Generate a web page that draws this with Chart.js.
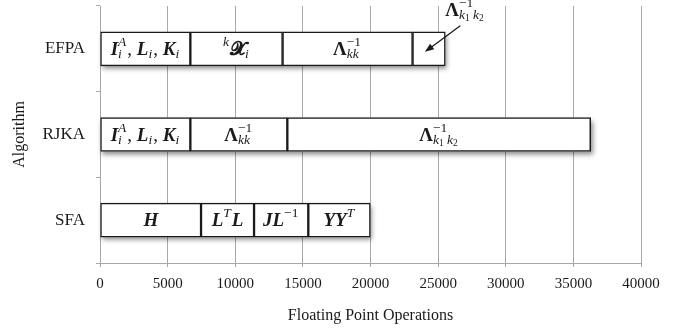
<!DOCTYPE html>
<html>
<head>
<meta charset="utf-8">
<script src="https://cdn.jsdelivr.net/npm/chart.js@4.4.1/dist/chart.umd.min.js"></script>
<style>
  html, body { margin: 0; padding: 0; background: #fff; }
  #wrap { width: 683px; height: 331px; }
</style>
</head>
<body>
<div id="wrap"><canvas id="opsChart"></canvas></div>
<script>
var algorithms = ['EFPA', 'RJKA', 'SFA'];
// flops spent in each step, left to right
var efpaOps = [6680, 6820, 9610, 2420];
var rjkaOps = [6680, 7170, 22430];
var sfaOps = [7470, 3920, 4010, 4590];
var opsMin = 0, opsMax = 40000, opsStep = 5000;

var serif = '"Liberation Serif", serif';
var baseSize = 19, scriptSize = 13.5;
var ink = '#1a1a1a', rule = '#a8a8a8';

// small helpers for the math labels
function b(t) { return { k: 'b', t: t }; }   // bold italic symbol
function g(t) { return { k: 'g', t: t }; }   // bold upright greek
function c(t) { return { k: 'c', t: t }; }   // bold calligraphic
function r(t) { return { k: 'r', t: t }; }   // roman
function sup(t) { return { k: 'sup', t: t }; }
function sub(t) { return { k: 'sub', t: t }; }
function both(up, down) { return { k: 'both', sup: up, sub: down }; }

var efpaTerms = [
  [b('I'), both('A', 'i'), r(', '), b('L'), sub('i'), r(', '), b('K'), sub('i')],
  [sup('k'), c('\u{1D4E7}'), sub('i')],
  [g('\u039B'), both('\u22121', 'kk')],
  null
];
var rjkaTerms = [
  [b('I'), both('A', 'i'), r(', '), b('L'), sub('i'), r(', '), b('K'), sub('i')],
  [g('\u039B'), both('\u22121', 'kk')],
  [g('\u039B'), both('\u22121', 'k_1 k_2')]
];
var sfaTerms = [
  [b('H')],
  [b('L'), sup('T'), b('L')],
  [b('J'), b('L'), sup('\u22121')],
  [b('Y'), b('Y'), sup('T')]
];
// the last EFPA step is too thin for its label, so it gets a callout
var efpaCallout = { segment: 3, term: [g('\u039B'), both('\u22121', 'k_1 k_2')] };

var opsTable = [efpaOps, rjkaOps, sfaOps];
var termTable = [efpaTerms, rjkaTerms, sfaTerms];

function scriptChars(text) {
  var out = [], low = false;
  for (var ch of text) {
    if (ch === '_') { low = true; continue; }
    out.push({ ch: ch, low: low });
    low = false;
  }
  return out;
}

function drawScript(ctx, text, x, y, dry) {
  var w = 0;
  scriptChars(text).forEach(function (s) {
    var size = s.low ? 9.5 : scriptSize;
    ctx.font = (/[A-Za-z]/.test(s.ch) ? 'italic ' : '') + size + 'px ' + serif;
    if (!dry) ctx.fillText(s.ch, x + w, y + (s.low ? 2.5 : 0));
    w += ctx.measureText(s.ch).width;
  });
  return w;
}

function pieceFont(k) {
  if (k === 'b') return 'italic bold ' + baseSize + 'px ' + serif;
  if (k === 'g') return 'bold ' + baseSize + 'px ' + serif;
  if (k === 'c') return 'bold ' + baseSize + 'px "DejaVu Serif", "DejaVu Sans", serif';
  return baseSize + 'px ' + serif;
}

// y is the baseline of the main symbols; returns the width used
function drawTerm(ctx, term, x, y, dry) {
  var w = 0;
  term.forEach(function (p) {
    if (p.k === 'sup') {
      w += drawScript(ctx, p.t, x + w, y - 9, dry) + 1;
    } else if (p.k === 'sub') {
      w += drawScript(ctx, p.t, x + w, y + 3, dry) + 1;
    } else if (p.k === 'both') {
      var a = drawScript(ctx, p.sup, x + w, y - 9, dry);
      var d = drawScript(ctx, p.sub, x + w, y + 3, dry);
      w += Math.max(a, d) + 1;
    } else {
      ctx.font = pieceFont(p.k);
      if (!dry) ctx.fillText(p.t, x + w, y);
      w += ctx.measureText(p.t).width;
    }
  });
  return w;
}

var segmentCount = Math.max(efpaOps.length, rjkaOps.length, sfaOps.length);
var datasets = [];
for (var j = 0; j < segmentCount; j++) {
  datasets.push({
    label: 'step ' + (j + 1),
    data: opsTable.map(function (ops) { return ops[j] !== undefined ? ops[j] : null; }),
    backgroundColor: '#ffffff',
    borderColor: ink,
    borderWidth: 1.5,
    borderSkipped: false,
    barThickness: 34
  });
}

// soft drop shadow under each whole bar
var barShadow = {
  id: 'barShadow',
  beforeDatasetsDraw: function (chart) {
    var ctx = chart.ctx, xs = chart.scales.x;
    var meta = chart.getDatasetMeta(0);
    ctx.save();
    ctx.shadowColor = 'rgba(0,0,0,0.45)';
    ctx.shadowBlur = 5;
    ctx.shadowOffsetX = 2;
    ctx.shadowOffsetY = 3;
    ctx.fillStyle = '#fff';
    opsTable.forEach(function (ops, i) {
      var el = meta.data[i];
      var total = ops.reduce(function (s, v) { return s + v; }, 0);
      var x0 = xs.getPixelForValue(0), x1 = xs.getPixelForValue(total);
      ctx.fillRect(x0, el.y - el.height / 2, x1 - x0, el.height);
    });
    ctx.restore();
  }
};

// math labels inside the segments, plus the callout arrow
var termLabels = {
  id: 'termLabels',
  afterDatasetsDraw: function (chart) {
    var ctx = chart.ctx;
    ctx.save();
    ctx.fillStyle = ink;
    ctx.textBaseline = 'alphabetic';
    ctx.textAlign = 'left';
    chart.data.datasets.forEach(function (ds, j) {
      chart.getDatasetMeta(j).data.forEach(function (el, i) {
        var term = termTable[i][j];
        if (!term || ds.data[i] === null) return;
        var w = drawTerm(ctx, term, 0, 0, true);
        var cx = (el.x + el.base) / 2;
        drawTerm(ctx, term, cx - w / 2, el.y + 6, false);
      });
    });

    var seg = chart.getDatasetMeta(efpaCallout.segment).data[0];
    var top = seg.y - seg.height / 2;
    var hx = (seg.x + seg.base) / 2 - 4, hy = seg.y + 3;
    var tx = seg.x + 15, ty = top - 6;
    ctx.strokeStyle = ink;
    ctx.lineWidth = 1.3;
    var ang = Math.atan2(hy - ty, hx - tx);
    ctx.beginPath();
    ctx.moveTo(tx, ty);
    ctx.lineTo(hx - 7 * Math.cos(ang), hy - 7 * Math.sin(ang));
    ctx.stroke();
    ctx.beginPath();
    ctx.moveTo(hx, hy);
    ctx.lineTo(hx - 9 * Math.cos(ang) + 3.5 * Math.sin(ang), hy - 9 * Math.sin(ang) - 3.5 * Math.cos(ang));
    ctx.lineTo(hx - 9 * Math.cos(ang) - 3.5 * Math.sin(ang), hy - 9 * Math.sin(ang) + 3.5 * Math.cos(ang));
    ctx.closePath();
    ctx.fill();
    drawTerm(ctx, efpaCallout.term, seg.x, top - 16, false);
    ctx.restore();
  }
};

var ctx = document.getElementById('opsChart').getContext('2d');
var opsChart = new Chart(ctx, {
  type: 'bar',
  data: { labels: algorithms, datasets: datasets },
  options: {
    indexAxis: 'y',
    responsive: true,
    maintainAspectRatio: false,
    animation: false,
    layout: { padding: { top: 6, right: 42, left: 0, bottom: 0 } },
    plugins: {
      legend: { display: false },
      tooltip: { enabled: false }
    },
    scales: {
      x: {
        stacked: true,
        min: opsMin,
        max: opsMax,
        ticks: {
          stepSize: opsStep,
          color: ink,
          padding: 8,
          maxRotation: 0,
          font: { family: serif, size: 15 },
          callback: function (v) { return String(v); }
        },
        grid: { color: rule, lineWidth: 1, tickLength: 4 },
        border: { color: rule },
        title: {
          display: true,
          text: 'Floating Point Operations',
          color: ink,
          padding: { bottom: 6 },
          font: { family: serif, size: 16 }
        },
        afterFit: function (scale) {
          scale.height = 68;
          scale.paddingLeft = 0;
          scale.paddingRight = 0;
        }
      },
      y: {
        stacked: true,
        ticks: { color: ink, padding: 11, font: { family: serif, size: 17 } },
        grid: { drawOnChartArea: false, color: rule, tickLength: 4, offset: true },
        border: { color: rule },
        title: {
          display: true,
          text: 'Algorithm',
          color: ink,
          padding: { top: 10 },
          font: { family: serif, size: 16 }
        },
        afterFit: function (scale) {
          scale.width = 100;
          scale.paddingTop = 0;
          scale.paddingBottom = 0;
        }
      }
    }
  },
  plugins: [barShadow, termLabels]
});
</script>
</body>
</html>
